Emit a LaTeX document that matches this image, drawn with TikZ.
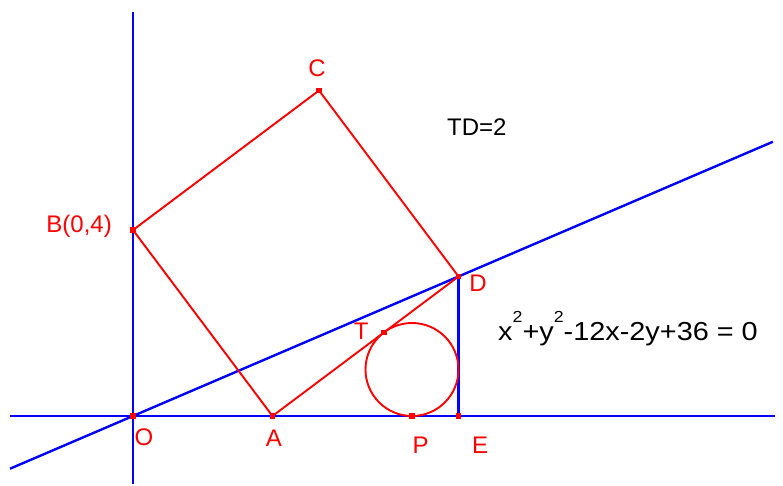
\documentclass[tikz,border=0pt]{standalone}
\usepackage{fontspec}
\setmainfont{Liberation Sans}
\newcommand{\mysup}{\raisebox{18pt}{\fontsize{16}{16}\selectfont 2}}
\begin{document}
\begin{tikzpicture}[x=46.5pt,y=46.5pt,
  bluel/.style={draw={rgb,255:red,0;green,0;blue,255},line width=2.4pt},
  redl/.style={draw={rgb,255:red,255;green,0;blue,0},line width=1.9pt},
  ptmark/.style={fill={rgb,255:red,255;green,0;blue,0},minimum size=5.5pt,inner sep=0pt,draw=none,rectangle},
  redlab/.style={text={rgb,255:red,255;green,0;blue,0},font=\fontsize{24}{28}\selectfont,inner sep=0pt,anchor=base},
  blacklab/.style={text=black,font=\fontsize{24}{28}\selectfont,inner sep=0pt}]
\useasboundingbox (-133pt,-69pt) rectangle (650pt,416pt);
% points
\coordinate (O) at (0,0);
\coordinate (A) at (3,0);
\coordinate (B) at (0,4);
\coordinate (C) at (4,7);
\coordinate (D) at (7,3);
\coordinate (E) at (7,0);
\coordinate (P) at (6,0);
\coordinate (T) at (5.4,1.8);
\coordinate (M) at (6,1);
% axis ends
\coordinate (xl) at (-2.645,0);
\coordinate (xr) at (13.806,0);
\coordinate (yb) at (0,-1.462);
\coordinate (yt) at (0,8.688);
\coordinate (ll) at (-2.645,-1.1336);
\coordinate (lr) at (13.76,5.897);
% blue lines
\draw[bluel] (xl) -- (xr);
\draw[bluel] (yb) -- (yt);
\draw[bluel] (ll) -- (lr);
\draw[bluel] (D) -- (E);
% red figure
\draw[redl] (A) -- (B) -- (C) -- (D) -- cycle;
\draw[redl] (M) circle (1);
% markers
\foreach \p in {O,A,B,C,D,E,P,T} \node[ptmark] (m\p) at (\p) {};
% labels
\node[redlab] (lC) at ([shift={(-2pt,14pt)}]C) {C};
\node[redlab,anchor=base east] (lB) at ([shift={(-21pt,-2pt)}]B) {B(0,4)};
\node[redlab] (lD) at ([shift={(19.5pt,-15pt)}]D) {D};
\node[redlab] (lT) at ([shift={(-23pt,-7pt)}]T) {T};
\node[redlab] (lO) at ([shift={(11pt,-29pt)}]O) {O};
\node[redlab] (lA) at ([shift={(1.5pt,-30pt)}]A) {A};
\node[redlab] (lP) at ([shift={(8.5pt,-37pt)}]P) {P};
\node[redlab] (lE) at ([shift={(21.5pt,-37pt)}]E) {E};
\node[blacklab,anchor=base west] (td) at (6.753,6.022) {TD=2};
\node[blacklab,anchor=base west,font=\fontsize{26}{30}\selectfont] (eq) at (7.85,1.634) {\scalebox{1.11}[1]{x\mysup+y\mysup-12x-2y+36 = 0}};
\end{tikzpicture}
\end{document}
